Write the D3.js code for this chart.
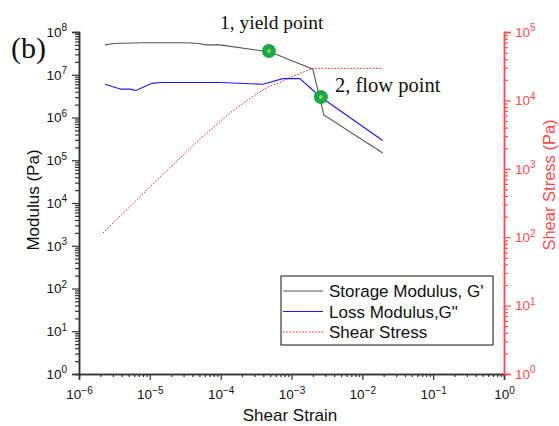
<!DOCTYPE html>
<html><head><meta charset="utf-8">
<script src="https://cdn.jsdelivr.net/npm/d3@7"></script>
<style>
html,body{margin:0;padding:0;background:#fff;}
svg{display:block;}
</style></head>
<body>
<svg id="chart" width="559" height="426"></svg>
<script>
// ---- data ----
const storageStrain = [2.33e-6, 3.12e-6, 8.0e-6, 3.33e-5, 4.93e-5, 6.18e-5, 9.75e-5, 3.94e-4, 6.41e-4, 2.0e-3, 2.86e-3, 1.94e-2];
const storageModulus = [5.0e7, 5.4e7, 5.6e7, 5.6e7, 5.4e7, 5.0e7, 5.0e7, 3.6e7, 2.9e7, 1.35e7, 1.15e6, 1.48e5];
const lossStrain = [2.33e-6, 3.91e-6, 5.24e-6, 6.37e-6, 1.07e-5, 1.44e-5, 9.75e-5, 3.94e-4, 7.53e-4, 1.31e-3, 2.51e-3, 1.94e-2];
const lossModulus = [6.0e6, 4.6e6, 4.6e6, 4.3e6, 6.3e6, 6.6e6, 6.6e6, 6.0e6, 8.1e6, 8.1e6, 3.1e6, 2.9e5];
const stressStrain = [2.18e-6, 1.0e-5, 5.09e-5, 1.35e-4, 3.03e-4, 4.94e-4, 6.84e-4, 9.46e-4, 1.31e-3, 2.0e-3, 1.94e-2];
const shearStress = [115, 542, 2730, 6550, 12000, 16300, 18200, 21500, 24700, 29400, 29400];
const markerStrain = [4.8e-4, 2.6e-3];
const markerModulus = [3.6e7, 3.0e6];
const markerLabels = ["1, yield point", "2, flow point"];
const xTicks = [1e-6, 1e-5, 1e-4, 1e-3, 1e-2, 1e-1, 1];
const xTickExp = ["\u22126", "\u22125", "\u22124", "\u22123", "\u22122", "\u22121", "0"];
const yLeftTicks = [1, 10, 100, 1e3, 1e4, 1e5, 1e6, 1e7, 1e8];
const yLeftExp = ["0","1","2","3","4","5","6","7","8"];
const yRightTicks = [1, 10, 100, 1e3, 1e4, 1e5];
const yRightExp = ["0","1","2","3","4","5"];
const legendLabels = ["Storage Modulus, G'", "Loss Modulus,G\"", "Shear Stress"];

// ---- layout ----
const L = 79, R = 504, T = 32, B = 374;
const SANS = "Arial, 'Liberation Sans', sans-serif";
const SERIF = "'Times New Roman', 'Liberation Serif', serif";
const svg = d3.select("#chart");
const x = d3.scaleLog().domain([1e-6, 1]).range([L, R]);
const yL = d3.scaleLog().domain([1, 1e8]).range([B, T]);
const yR = d3.scaleLog().domain([1, 1e5]).range([B, T]);
const red = "#ff4d4d";

function minors(scale) {
  const [a, b] = scale.domain();
  const out = [];
  for (let e = Math.round(Math.log10(a)); e < Math.round(Math.log10(b)); e++)
    for (let k = 2; k <= 9; k++) out.push(k * Math.pow(10, e));
  return out;
}

function styleAxis(g, color) {
  g.select(".domain").attr("stroke", color).attr("stroke-width", 1.5);
  g.selectAll(".tick line").attr("stroke", color).attr("stroke-width", 1.2);
}

// minor ticks
const gxm = svg.append("g").attr("transform", `translate(0,${B})`)
  .call(d3.axisBottom(x).tickValues(minors(x)).tickSize(3).tickFormat(""));
styleAxis(gxm, "#333");
const gylm = svg.append("g").attr("transform", `translate(${L},0)`)
  .call(d3.axisLeft(yL).tickValues(minors(yL)).tickSize(4).tickFormat(""));
styleAxis(gylm, "#333");
const gyrm = svg.append("g").attr("transform", `translate(${R},0)`)
  .call(d3.axisRight(yR).tickValues(minors(yR)).tickSize(4).tickFormat(""));
styleAxis(gyrm, red);

// major ticks
function supLabels(g, exps, color) {
  g.selectAll(".tick text").each(function(d, i) {
    const t = d3.select(this);
    t.text(null).attr("fill", color).style("font-size", "13.5px").style("font-family", SANS);
    t.append("tspan").text("10");
    t.append("tspan").style("font-size", "10px").attr("dy", "-0.55em").text(exps[i]);
  });
}
const gx = svg.append("g").attr("transform", `translate(0,${B})`)
  .call(d3.axisBottom(x).tickValues(xTicks).tickSize(6).tickPadding(5));
styleAxis(gx, "#333");
supLabels(gx, xTickExp, "#111");
gx.selectAll(".tick text").attr("dy", "1.05em");

const gyl = svg.append("g").attr("transform", `translate(${L},0)`)
  .call(d3.axisLeft(yL).tickValues(yLeftTicks).tickSize(7).tickPadding(5));
styleAxis(gyl, "#333");
supLabels(gyl, yLeftExp, "#111");

const gyr = svg.append("g").attr("transform", `translate(${R},0)`)
  .call(d3.axisRight(yR).tickValues(yRightTicks).tickSize(7).tickPadding(4));
styleAxis(gyr, red);
supLabels(gyr, yRightExp, red);

// axis titles
svg.append("text").attr("transform", `translate(39,200) rotate(-90)`)
  .attr("text-anchor", "middle").style("font-size", "17px").style("font-family", SANS)
  .attr("fill", "#111").text("Modulus (Pa)");
svg.append("text").attr("x", 290).attr("y", 421)
  .attr("text-anchor", "middle").style("font-size", "17px").style("font-family", SANS)
  .attr("fill", "#111").text("Shear Strain");
svg.append("text").attr("transform", `translate(555,185) rotate(-90)`)
  .attr("text-anchor", "middle").style("font-size", "16.5px").style("font-family", SANS)
  .attr("fill", red).text("Shear Stress (Pa)");

// lines
const lineL = d3.line().x(d => x(d[0])).y(d => yL(d[1]));
const lineR = d3.line().x(d => x(d[0])).y(d => yR(d[1]));
svg.append("path").datum(stressStrain.map((s, i) => [s, shearStress[i]]))
  .attr("d", lineR).attr("fill", "none").attr("stroke", "#ff2020")
  .attr("stroke-width", 1).attr("stroke-dasharray", "1.6,1.6");
svg.append("path").datum(lossStrain.map((s, i) => [s, lossModulus[i]]))
  .attr("d", lineL).attr("fill", "none").attr("stroke", "#1a1aff").attr("stroke-width", 1.1);
svg.append("path").datum(storageStrain.map((s, i) => [s, storageModulus[i]]))
  .attr("d", lineL).attr("fill", "none").attr("stroke", "#555").attr("stroke-width", 1.1);

// markers
markerStrain.forEach((s, i) => {
  svg.append("circle").attr("cx", x(s)).attr("cy", yL(markerModulus[i])).attr("r", 7).attr("fill", "#17a94a");
  svg.append("circle").attr("cx", x(s)).attr("cy", yL(markerModulus[i])).attr("r", 2).attr("fill", "#8fd14f");
});
svg.append("text").attr("x", 220).attr("y", 29).style("font-family", SERIF)
  .style("font-size", "19.5px").attr("fill", "#111").text(markerLabels[0]);
svg.append("text").attr("x", 335).attr("y", 92).style("font-family", SERIF)
  .style("font-size", "20.5px").attr("fill", "#111").text(markerLabels[1]);
svg.append("text").attr("x", 11).attr("y", 58).style("font-family", SERIF)
  .style("font-size", "30px").attr("fill", "#111").text("(b)");

// legend
const lg = svg.append("g");
lg.append("rect").attr("x", 281).attr("y", 276).attr("width", 212).attr("height", 69)
  .attr("fill", "#fff").attr("stroke", "#111").attr("stroke-width", 1);
const legColors = ["#555", "#1a1aff", "#ff2020"];
const legDash = [null, null, "1.6,1.6"];
legendLabels.forEach((lab, i) => {
  const yy = 291 + i * 20.5;
  lg.append("line").attr("x1", 283).attr("x2", 323).attr("y1", yy).attr("y2", yy)
    .attr("stroke", legColors[i]).attr("stroke-width", 1.1).attr("stroke-dasharray", legDash[i]);
  lg.append("text").attr("x", 329).attr("y", yy + 6).style("font-size", "17px")
    .style("font-family", SANS).attr("fill", "#111").text(lab);
});
</script>
</body></html>
